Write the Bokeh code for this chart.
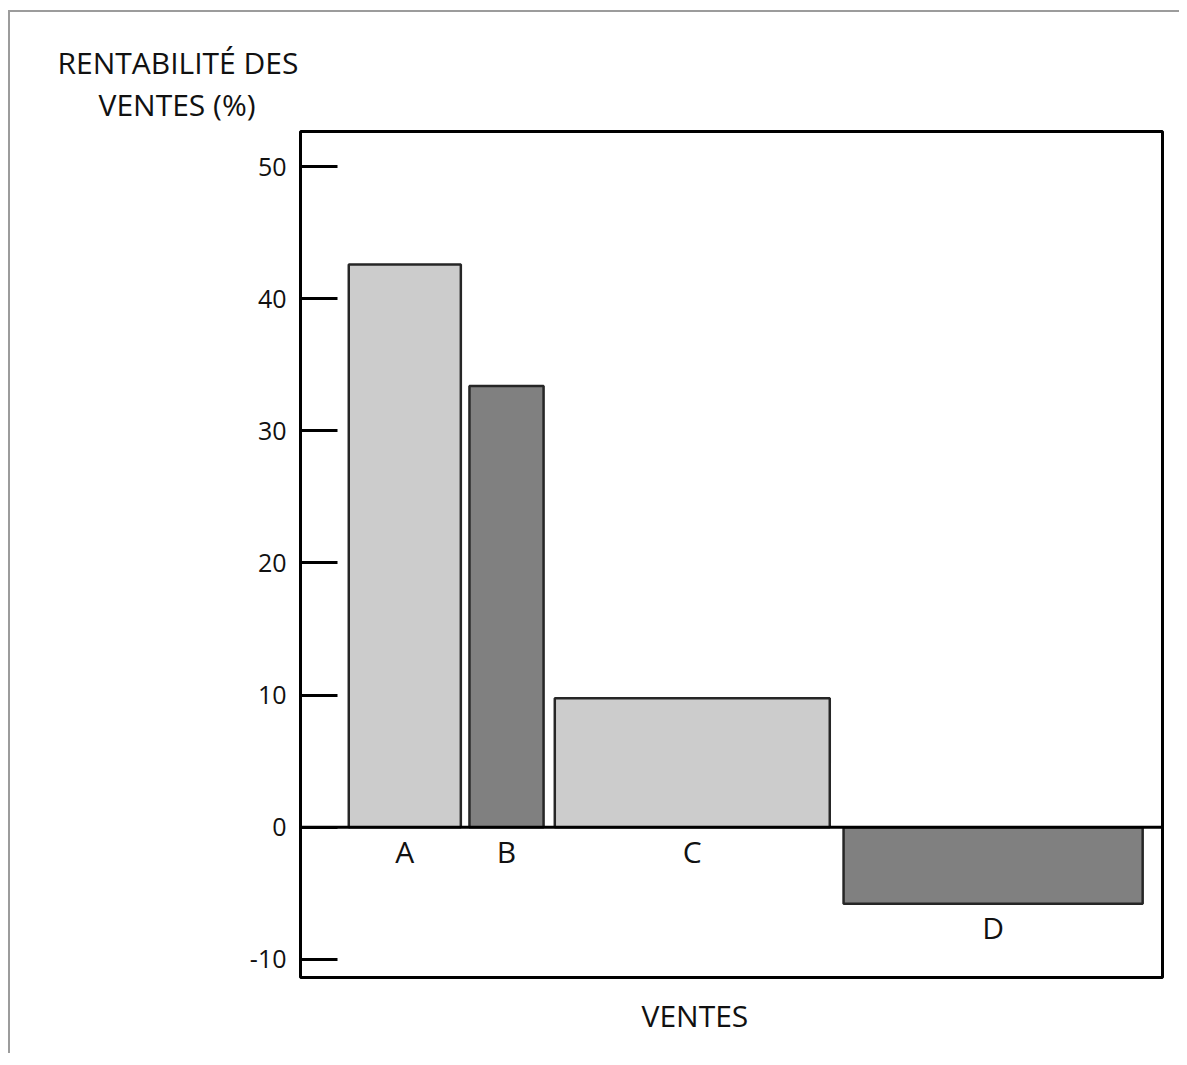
from bokeh.plotting import figure
from bokeh.models import Range1d, Span, Title, FixedTicker, ColumnDataSource
from bokeh.core.properties import value
from bokeh.embed import file_html
from bokeh.resources import INLINE

# ---- data ----
categories = ["A", "B", "C", "D"]
rentabilite = [42.6, 33.4, 9.75, -5.8]          # rentabilité des ventes (%)
ventes_debut = [5.6, 19.6, 29.5, 63.0]          # cumulative sales scale (0-100)
ventes_fin = [18.6, 28.2, 61.4, 97.7]
couleurs = ["#cccccc", "#808080", "#cccccc", "#808080"]
y_ticks = [-10, 0, 10, 20, 30, 40, 50]
titre_y = ["RENTABILITÉ DES", "VENTES (%)"]
titre_x = "VENTES"

FONT = "Open Sans"
TXT = "#111111"

Y0, Y1 = -11.38, 52.66

p = figure(frame_width=862, frame_height=846,
           min_border_left=290, min_border_top=119,
           min_border_right=17, min_border_bottom=76,
           x_range=Range1d(0, 100), y_range=Range1d(Y0, Y1),
           output_backend="svg", toolbar_location=None,
           background_fill_color="white", border_fill_color="white")

p.styles = {"border-left": "2px solid #9c9c9c", "border-top": "2px solid #9c9c9c",
            "margin-top": "10px", "margin-left": "8px"}

p.title.visible = False
p.outline_line_color = "black"
p.outline_line_width = 3
p.grid.visible = False
p.xaxis.visible = False

ya = p.yaxis[0]
ya.ticker = FixedTicker(ticks=y_ticks)
ya.major_label_overrides = {t: str(t) for t in y_ticks}
ya.axis_line_color = None
ya.major_tick_in = 37
ya.major_tick_out = 0
ya.major_tick_line_width = 3
ya.major_tick_line_color = "black"
ya.minor_tick_line_color = None
ya.major_label_standoff = 14
ya.major_label_text_font = FONT
ya.major_label_text_font_size = "25px"
ya.major_label_text_color = TXT

src = ColumnDataSource(dict(
    cat=categories,
    left=ventes_debut,
    right=ventes_fin,
    top=[max(v, 0) for v in rentabilite],
    bottom=[min(v, 0) for v in rentabilite],
    color=couleurs,
    xc=[(a + b) / 2 for a, b in zip(ventes_debut, ventes_fin)],
))

p.quad(left="left", right="right", top="top", bottom="bottom", source=src,
       fill_color="color", line_color="#262626", line_width=2.5)

p.add_layout(Span(location=0, dimension="width", line_color="black", line_width=3))

p.text(x="xc", y="bottom", text="cat", source=src,
       text_font=value(FONT), text_font_size="30px", text_color=TXT,
       text_align="center", text_baseline="middle", y_offset=24)

# y-axis title (horizontal, top-left, above the frame) — nearest line first
for txt, off, so in [(titre_y[1], -202, 13), (titre_y[0], -243, -14)]:
    p.add_layout(Title(text=txt, align="left", offset=off, standoff=so,
                       text_font=FONT, text_font_size="30px", text_line_height=1.0,
                       text_font_style="normal", text_color=TXT), "above")
# x-axis title
p.add_layout(Title(text=titre_x, align="left", offset=341, standoff=30,
                   text_font=FONT, text_font_size="30px",
                   text_font_style="normal", text_color=TXT), "below")

open("out.html", "w").write(file_html(p, INLINE))
